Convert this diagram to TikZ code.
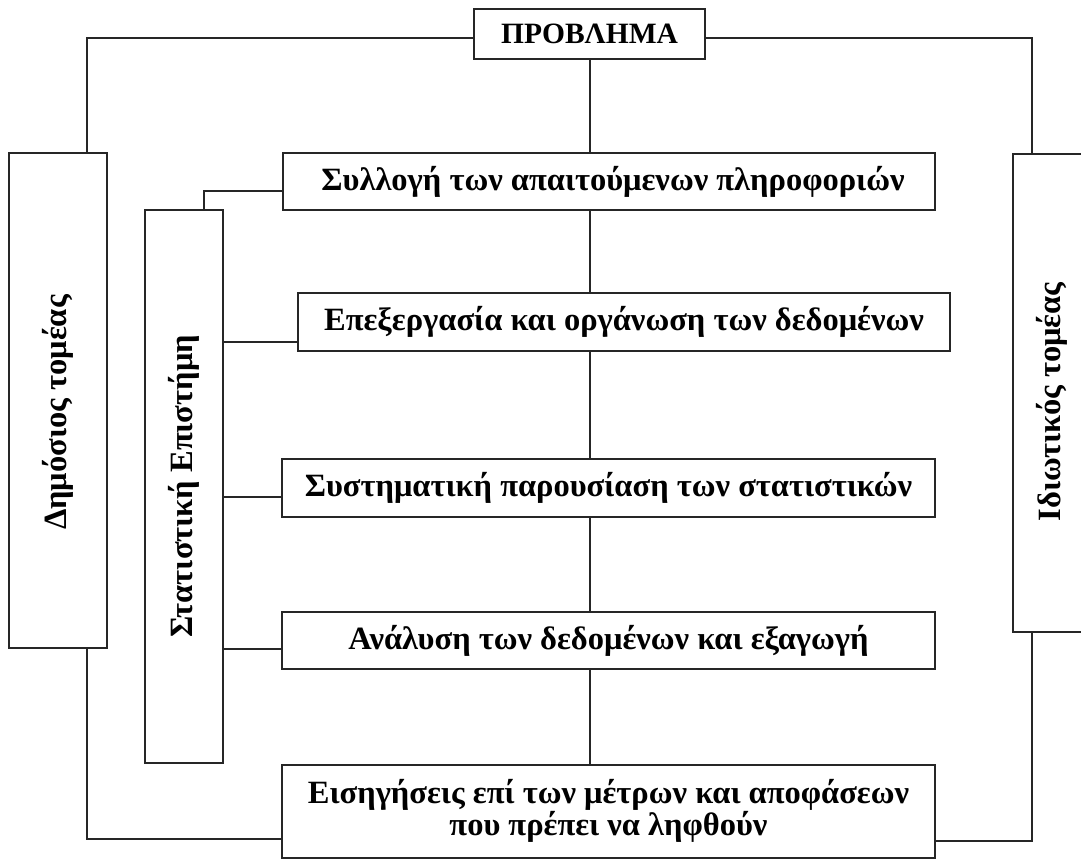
\documentclass[tikz,border=0pt]{standalone}
\usepackage{fontspec}
\setmainfont{Liberation Serif}
\usepackage{tikz}
\usetikzlibrary{scopes}

\begin{document}
\begin{tikzpicture}[x=1pt,y=-1pt,
      box/.style={draw=black!85,line width=2pt,inner sep=0pt,font=\fontsize{32.5}{28}\selectfont\bfseries},
      link/.style={draw=black!85,line width=2pt}
]
      \useasboundingbox[fill=white] (0,0) rectangle (1081,859);
      \node[box,minimum width=231,minimum height=50,font=\fontsize{29.5}{34}\selectfont\bfseries] at (589.5,34) (prob) {ΠΡΟΒΛΗΜΑ};
      % the two sides
      \node[box,minimum width=98,minimum height=495] at (58,400.5) (pub) {\rotatebox{90}{Δημόσιος τομέας\hspace*{24pt}}};
      \node[box,minimum width=78,minimum height=478] at (1052,393) (priv) {\rotatebox{90}{Ιδιωτικός τομέας\hspace*{18pt}}};
      \node[box,minimum width=78,minimum height=553] at (184,486.5) (stat) {\rotatebox{90}{Στατιστική Επιστήμη}};
      % the steps
      \node[box,minimum width=652,minimum height=57] at (609,181.5) (syl) {\hspace*{8pt}Συλλογή των απαιτούμενων πληροφοριών};
      \node[box,minimum width=652,minimum height=58] at (624,322) (epe) {Επεξεργασία και οργάνωση των δεδομένων};
      \node[box,minimum width=653,minimum height=58] at (608.5,488) (sys) {Συστηματική παρουσίαση των στατιστικών};
      \node[box,minimum width=653,minimum height=57] at (608.5,640.5) (ana) {Ανάλυση των δεδομένων και εξαγωγή};
      \node[box,minimum width=653,minimum height=93,align=center] at (608.5,811) (eis) {Εισηγήσεις επί των μέτρων και αποφάσεων\\που πρέπει να ληφθούν};
      {[link]
          \draw ([yshift=-4]prob.west) -| ([xshift=29]pub.north);
          \draw ([yshift=-4]prob.east) -| ([xshift=-20]priv.north);
          \draw ([xshift=29]pub.south) |- ([yshift=-28]eis.west);
          \draw ([xshift=-20]priv.south) |- ([yshift=-30]eis.east);
      }
      {[link]
          \draw (prob.south) -- (prob.south |- syl.north);
          \draw (prob.south |- syl.south) -- (prob.south |- epe.north);
          \draw (prob.south |- epe.south) -- (prob.south |- sys.north);
          \draw (prob.south |- sys.south) -- (prob.south |- ana.north);
          \draw (prob.south |- ana.south) -- (prob.south |- eis.north);
      }
      {[link]
          \draw ([yshift=-9.5]syl.west) -| ([xshift=20]stat.north);
          \draw ([yshift=-20]epe.west) -- ([yshift=-20]stat.east |- epe.west);
          \draw ([yshift=-9]sys.west) -- ([yshift=-9]stat.east |- sys.west);
          \draw ([yshift=-8.5]ana.west) -- ([yshift=-8.5]stat.east |- ana.west);
      }
\end{tikzpicture}
\end{document}
